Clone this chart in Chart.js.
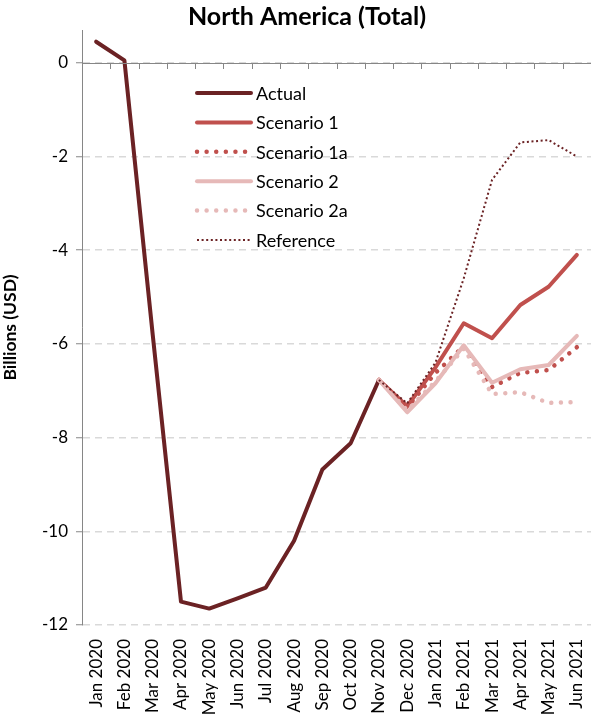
<!DOCTYPE html>
<html>
<head>
<meta charset="utf-8">
<script src="https://cdn.jsdelivr.net/npm/chart.js@4"></script>
<style>
  html, body { margin: 0; padding: 0; background: #fff; }
  #wrap { width: 591px; height: 717px; }
</style>
</head>
<body>
<div id="wrap"><canvas id="naChart"></canvas></div>
<script>
const months = ['Jan 2020', 'Feb 2020', 'Mar 2020', 'Apr 2020', 'May 2020', 'Jun 2020', 'Jul 2020', 'Aug 2020', 'Sep 2020',
  'Oct 2020', 'Nov 2020', 'Dec 2020', 'Jan 2021', 'Feb 2021', 'Mar 2021', 'Apr 2021', 'May 2021', 'Jun 2021'];
const actual = [0.45, 0.05, -5.8, -11.5, -11.65, -11.43, -11.2, -10.2, -8.68, -8.12, -6.77, null, null, null, null, null, null, null];
const scenario1 = [null, null, null, null, null, null, null, null, null, null, -6.77, -7.33, -6.5, -5.56, -5.88, -5.17, -4.78, -4.1];
const scenario1a = [null, null, null, null, null, null, null, null, null, null, -6.77, -7.36, -6.62, -6.05, -6.92, -6.62, -6.56, -6.07];
const scenario2 = [null, null, null, null, null, null, null, null, null, null, -6.77, -7.46, -6.84, -6.03, -6.83, -6.54, -6.45, -5.83];
const scenario2a = [null, null, null, null, null, null, null, null, null, null, -6.77, -7.42, -6.8, -6.1, -7.07, -7.03, -7.26, -7.24];
const reference = [null, null, null, null, null, null, null, null, null, null, -6.77, -7.27, -6.4, -4.6, -2.5, -1.7, -1.65, -2.0];

const chartTitle = 'North America (Total)';
const FONT = 'Lato, "Liberation Sans", sans-serif';

// title sits a bit right of the canvas centre, as in the original
const topTitle = {
  id: 'topTitle',
  afterDraw(chart) {
    const { ctx } = chart;
    ctx.save();
    ctx.fillStyle = '#000';
    ctx.font = 'bold 25px ' + FONT;
    ctx.textAlign = 'center';
    ctx.textBaseline = 'middle';
    ctx.fillText(chartTitle, 307, 17);
    ctx.restore();
  }
};

// x axis sits on the zero line, with tick marks between categories
const zeroAxis = {
  id: 'zeroAxis',
  afterDatasetsDraw(chart) {
    const { ctx, chartArea, scales } = chart;
    const y0 = scales.y.getPixelForValue(0);
    const n = months.length;
    const step = (chartArea.right - chartArea.left) / n;
    ctx.save();
    ctx.strokeStyle = '#868686';
    ctx.lineWidth = 1;
    ctx.beginPath();
    ctx.moveTo(chartArea.left, Math.round(y0) + 0.5);
    ctx.lineTo(chartArea.right, Math.round(y0) + 0.5);
    for (let i = 1; i <= n; i++) {
      const x = Math.round(chartArea.left + i * step) + 0.5;
      ctx.moveTo(x, Math.round(y0));
      ctx.lineTo(x, Math.round(y0) + 6);
    }
    ctx.stroke();
    ctx.restore();
  }
};

// legend drawn inside the plot area like the original
const innerLegend = {
  id: 'innerLegend',
  afterDraw(chart) {
    const { ctx } = chart;
    const x0 = 197, x1 = 251, tx = 256, top = 93, gap = 29.4;
    ctx.save();
    chart.data.datasets.forEach((ds, i) => {
      const y = top + i * gap;
      ctx.strokeStyle = ds.borderColor;
      ctx.lineWidth = ds.borderWidth;
      ctx.lineCap = ds.borderCapStyle || 'butt';
      ctx.setLineDash(ds.borderDash || []);
      ctx.beginPath();
      ctx.moveTo(x0, y);
      ctx.lineTo(x1, y);
      ctx.stroke();
      ctx.setLineDash([]);
      ctx.fillStyle = '#000';
      ctx.font = '18px ' + FONT;
      ctx.textBaseline = 'middle';
      ctx.fillText(ds.label, tx, y + 1);
    });
    ctx.restore();
  }
};

new Chart(document.getElementById('naChart'), {
  type: 'line',
  data: {
    labels: months,
    datasets: [
      { label: 'Actual', data: actual, borderColor: '#6b2224', borderWidth: 4, borderCapStyle: 'round', order: 6 },
      { label: 'Scenario 1', data: scenario1, borderColor: '#c0504d', borderWidth: 4, borderCapStyle: 'round', order: 5 },
      { label: 'Scenario 1a', data: scenario1a, borderColor: '#c0504d', borderWidth: 4.5, borderCapStyle: 'round', borderDash: [0.01, 9.6], order: 4 },
      { label: 'Scenario 2', data: scenario2, borderColor: '#e6b9b8', borderWidth: 4, borderCapStyle: 'round', order: 3 },
      { label: 'Scenario 2a', data: scenario2a, borderColor: '#e6b9b8', borderWidth: 4.5, borderCapStyle: 'round', borderDash: [0.01, 9.6], order: 2 },
      { label: 'Reference', data: reference, borderColor: '#6b2224', borderWidth: 2, borderDash: [2, 2.6], order: 1 }
    ]
  },
  options: {
    responsive: true,
    maintainAspectRatio: false,
    animation: false,
    layout: { padding: { top: 30, right: 0, bottom: 0, left: 0 } },
    elements: { point: { radius: 0 }, line: { tension: 0, borderJoinStyle: 'round' } },
    plugins: {
      legend: { display: false },
      tooltip: { enabled: false },
      title: { display: false }
    },
    scales: {
      x: {
        offset: true,
        grid: { display: false, drawTicks: false },
        border: { display: false },
        ticks: { color: '#000', font: { family: FONT, size: 17 }, minRotation: 90, maxRotation: 90, padding: 14, autoSkip: false },
        afterFit(scale) {
          scale.height = 92;
          scale.paddingLeft = 0;
          scale.paddingRight = 0;
        }
      },
      y: {
        min: -12,
        max: 0.7,
        grid: { color: '#d9d9d9', lineWidth: 1.5, tickColor: '#868686', tickLength: 6, tickBorderDash: [], tickWidth: 1 },
        border: { display: true, color: '#868686', width: 1, dash: [7, 5] },
        ticks: { stepSize: 2, includeBounds: false, color: '#000', font: { family: FONT, size: 17 }, padding: 8 },
        title: { display: true, text: 'Billions (USD)', color: '#000', font: { family: FONT, size: 17.5, weight: 'bold' }, padding: { top: 0, bottom: 4 } },
        afterFit(scale) {
          scale.width = 82;
          scale.paddingTop = 0;
          scale.paddingBottom = 0;
        }
      }
    }
  },
  plugins: [zeroAxis, innerLegend, topTitle]
});
</script>
</body>
</html>
